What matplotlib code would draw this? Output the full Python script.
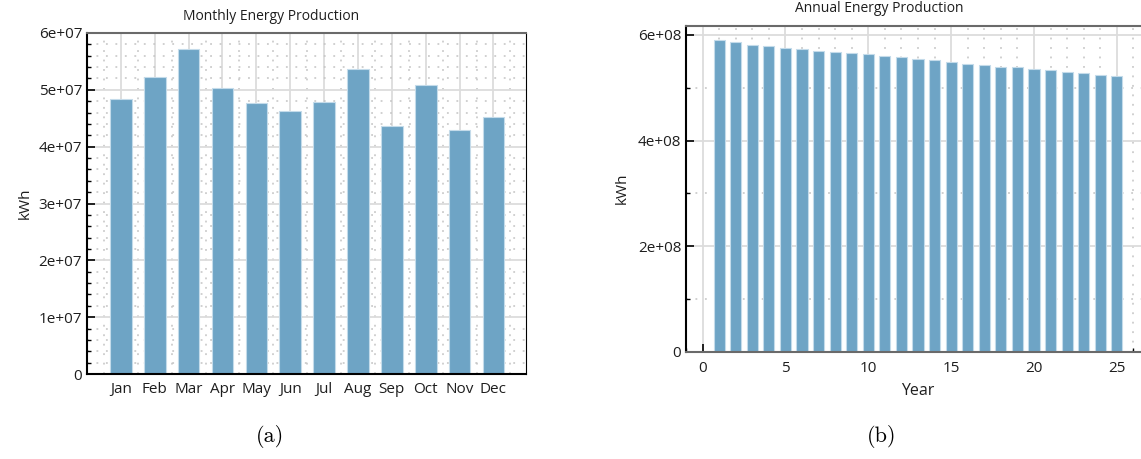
import matplotlib
matplotlib.use("Agg")
import matplotlib.pyplot as plt
from matplotlib.ticker import MultipleLocator, FixedLocator

# Monthly production (kWh)
months = ["Jan", "Feb", "Mar", "Apr", "May", "Jun",
          "Jul", "Aug", "Sep", "Oct", "Nov", "Dec"]
monthly_kwh = [48.4e6, 52.3e6, 57.1e6, 50.4e6, 47.6e6, 46.2e6,
               47.9e6, 53.7e6, 43.7e6, 50.8e6, 42.9e6, 45.3e6]

# Annual production over lifetime (kWh)
years = list(range(1, 26))
annual_kwh = [5.899e8, 5.861e8, 5.810e8, 5.791e8, 5.753e8, 5.734e8,
              5.703e8, 5.684e8, 5.652e8, 5.633e8, 5.595e8, 5.576e8,
              5.544e8, 5.525e8, 5.487e8, 5.456e8, 5.437e8, 5.399e8,
              5.386e8, 5.348e8, 5.329e8, 5.297e8, 5.278e8, 5.241e8,
              5.222e8]

bar_color = "#6ea4c5"
edge_color = "#c4dbea"
text_color = "#1e1e1e"
ui_font = ["Open Sans", "DejaVu Sans"]

W, H = 1141, 459
fig = plt.figure(figsize=(W / 100, H / 100), dpi=100)


def px_axes(x0, y0, x1, y1):
    # axes box from pixel coordinates (top-left origin)
    return fig.add_axes([x0 / W, 1 - y1 / H, (x1 - x0) / W, (y1 - y0) / H])


def style_axes(ax):
    ax.set_axisbelow(True)
    ax.grid(which="major", color="#dcdcdc", linestyle="-", linewidth=1.3)
    ax.grid(which="minor", color="#c4c4c4", linestyle=(0, (1.2, 5)), linewidth=1.1)
    ax.tick_params(which="both", direction="in", colors="black",
                   labelcolor=text_color, labelsize=11)
    ax.tick_params(which="major", length=6, width=1.2)
    ax.tick_params(which="minor", length=3, width=1.0)
    ax.spines["left"].set_color("black")
    ax.spines["top"].set_color("#6a6a6a")
    ax.spines["top"].set_linewidth(1.5)
    for lab in ax.get_xticklabels() + ax.get_yticklabels():
        lab.set_family(ui_font)


# ---- (a) Monthly
ax1 = px_axes(87, 33, 526, 374)
x1 = list(range(len(months)))
ax1.bar(x1, monthly_kwh, width=0.64, color=bar_color,
        edgecolor=edge_color, linewidth=0.8, zorder=2)
ax1.set_xlim(-1.0, 11.96)
ax1.set_ylim(0, 6e7)
ax1.set_xticks(x1)
ax1.set_xticklabels(months)
ax1.xaxis.set_minor_locator(FixedLocator([i + 0.5 for i in range(-1, 12)]))
ax1.yaxis.set_minor_locator(MultipleLocator(2e6))
ax1.set_yticks([0, 1e7, 2e7, 3e7, 4e7, 5e7, 6e7])
ax1.set_yticklabels(["0", "1e+07", "2e+07", "3e+07", "4e+07", "5e+07", "6e+07"])
style_axes(ax1)
ax1.tick_params(axis="x", which="minor", length=0)
ax1.tick_params(axis="x", which="major", length=7, pad=6)
ax1.spines["right"].set_color("black")
ax1.spines["bottom"].set_color("black")
ax1.spines["left"].set_linewidth(1.5)
ax1.spines["bottom"].set_linewidth(1.5)
ax1.set_ylabel("kWh", family=ui_font, fontsize=11, color=text_color, labelpad=4)
fig.text(271 / W, 1 - 16 / H, "Monthly Energy Production", family=ui_font,
         fontsize=10, color=text_color, ha="center", va="center")

# ---- (b) Annual
ax2 = px_axes(686, 25.7, 1150, 351.7)
ax2.bar(years, annual_kwh, width=0.68, color=bar_color,
        edgecolor=edge_color, linewidth=0.8, zorder=2)
ax2.set_xlim(-1.0, 27)
ax2.set_ylim(0, 6.176e8)
ax2.xaxis.set_minor_locator(MultipleLocator(1))
ax2.yaxis.set_minor_locator(MultipleLocator(1e8))
ax2.set_xticks([0, 5, 10, 15, 20, 25])
ax2.set_yticks([0, 2e8, 4e8, 6e8])
ax2.set_yticklabels(["0", "2e+08", "4e+08", "6e+08"])
style_axes(ax2)
ax2.tick_params(axis="x", which="major", pad=7)
ax2.spines["bottom"].set_color("#6a6a6a")
ax2.spines["bottom"].set_linewidth(1.5)
ax2.spines["left"].set_linewidth(1.5)
ax2.set_ylabel("kWh", family=ui_font, fontsize=11, color=text_color, labelpad=6)
ax2.set_xlabel("Year", family=ui_font, fontsize=11.5, color=text_color, labelpad=5)
fig.text(879 / W, 1 - 8 / H, "Annual Energy Production", family=ui_font,
         fontsize=10, color=text_color, ha="center", va="center")

# ---- captions
fig.text(270 / W, 1 - 437 / H, "(a)", family="cmr10", fontsize=16,
         ha="center", va="center")
fig.text(882 / W, 1 - 437 / H, "(b)", family="cmr10", fontsize=16,
         ha="center", va="center")

fig.savefig("out.png", dpi=100)
